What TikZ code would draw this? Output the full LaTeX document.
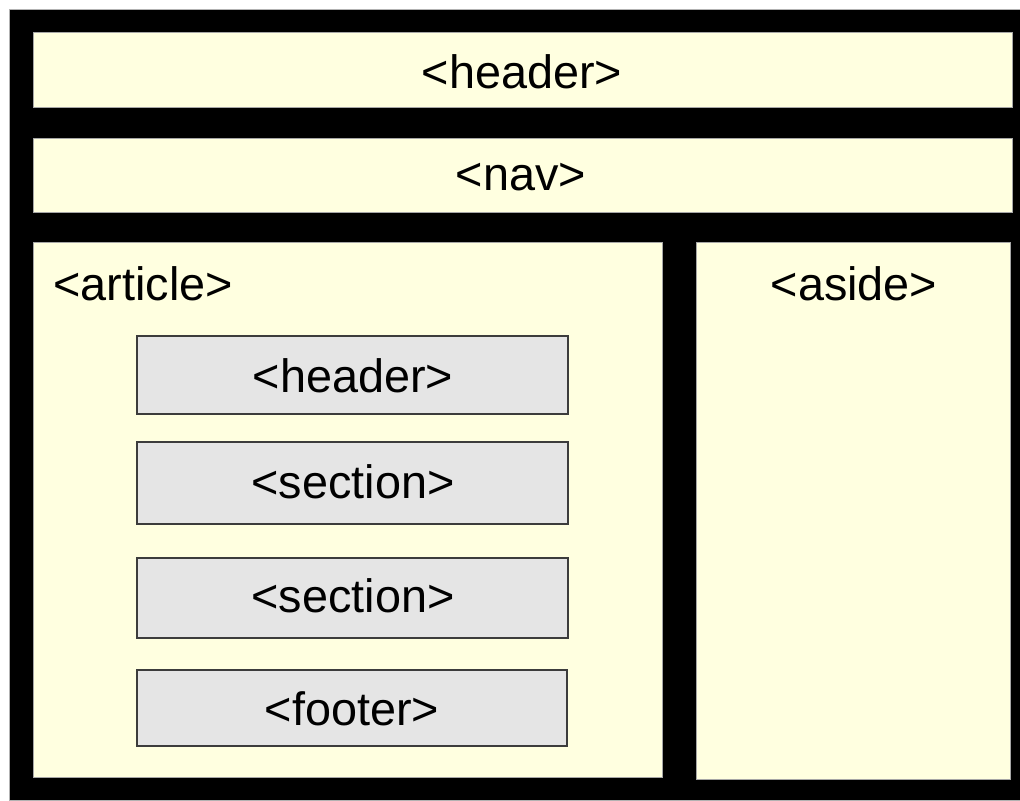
\documentclass[tikz,border=0pt]{standalone}
\usepackage{fontspec}
\setmainfont{Liberation Sans}
\usetikzlibrary{fit}
\definecolor{ylw}{RGB}{255,255,224}
\definecolor{gry}{RGB}{229,229,229}
\definecolor{edge}{RGB}{60,60,60}
\begin{document}
\begin{tikzpicture}[x=0.5pt,y=-0.5pt,
  ybox/.style={draw=gray!70, line width=0.4pt, fill=ylw, inner sep=0pt},
  gbox/.style={draw=edge, line width=0.8pt, fill=gry, inner sep=0pt},
  lbl/.style={anchor=base, inner sep=0pt, font=\fontsize{23.4}{28}\selectfont}]
\useasboundingbox (0,0) rectangle (1020,800);
\fill[white] (0,0) rectangle (1020,800);
\node[fit={(9,9) (1020,800)}, fill=black, draw=gray!60, line width=0.4pt, inner sep=0pt] (frame) {};
% page regions
\node[ybox, fit={(33,32) (1012,107)}] (hdr) {};
\node[ybox, fit={(33,138) (1012,212)}] (nav) {};
\node[ybox, fit={(33,242) (662,777)}] (art) {};
\node[ybox, fit={(696,242) (1010,779)}] (aside) {};
% article children
\node[gbox, fit={(137,336) (568,414)}] (ahdr) {};
\node[gbox, fit={(137,442) (568,524)}] (sec1) {};
\node[gbox, fit={(137,558) (568,638)}] (sec2) {};
\node[gbox, fit={(137,670) (567,746)}] (foot) {};
% labels
\node[lbl] (thdr) at (522,88) {<header>};
\node[lbl] (tnav) at (521,190) {<nav>};
\node[lbl, anchor=base west] (tart) at (53,300) {<article>};
\node[lbl] (taside) at (854,300) {<aside>};
\node[lbl] (tahdr) at (353,392) {<header>};
\node[lbl] (tsec1) at (353,498) {<section>};
\node[lbl] (tsec2) at (353,612) {<section>};
\node[lbl] (tfoot) at (352,725) {<footer>};
\end{tikzpicture}
\end{document}
